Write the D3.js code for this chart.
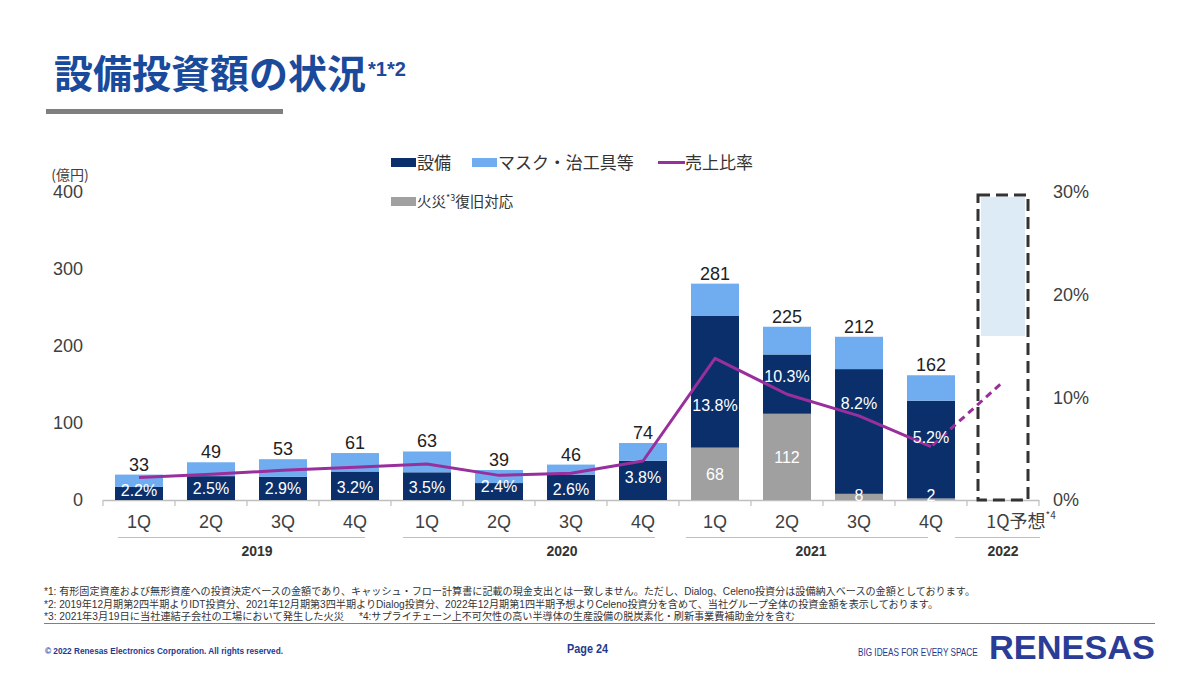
<!DOCTYPE html>
<html><head><meta charset="utf-8">
<script src="https://cdn.jsdelivr.net/npm/d3@7"></script>
<style>
html,body{margin:0;padding:0;background:#fff;}
svg{display:block;}
</style></head>
<body>
<svg id="chart" width="1200" height="675"></svg>
<script>
// ---------------- DATA ----------------
const categories = ["1Q","2Q","3Q","4Q","1Q","2Q","3Q","4Q","1Q","2Q","3Q","4Q","1Q予想"];
const years = ["2019","2020","2021","2022"];
const yearFirst = [0,4,8,12];
const yearLast = [3,7,11,12];
const equipment = [17,31,30,37,36,22,33,51,171,77,162,127];      // 設備
const masks = [16,18,23,24,27,17,13,23,42,36,42,33];              // マスク・治工具等
const fireRecovery = [0,0,0,0,0,0,0,0,68,112,8,2];                // 火災復旧対応
const totals = [33,49,53,61,63,39,46,74,281,225,212,162];
const salesRatio = [2.2,2.5,2.9,3.2,3.5,2.4,2.6,3.8,13.8,10.3,8.2,5.2];  // 売上比率 (%)
const forecastRatio = 11.5;          // 1Q予想 売上比率 (%)
const forecastRange = [213, 396];    // 1Q予想 range (億円)
const leftTicks = [0,100,200,300,400];
const rightTicks = [0,0.1,0.2,0.3];
const footnotes = [
  "*1: 有形固定資産および無形資産への投資決定ベースの金額であり、キャッシュ・フロー計算書に記載の現金支出とは一致しません。ただし、Dialog、Celeno投資分は設備納入ベースの金額としております。",
  "*2: 2019年12月期第2四半期よりIDT投資分、2021年12月期第3四半期よりDialog投資分、2022年12月期第1四半期予想よりCeleno投資分を含めて、当社グループ全体の投資金額を表示しております。",
  "*3: 2021年3月19日に当社連結子会社の工場において発生した火災",
  "*4:サプライチェーン上不可欠性の高い半導体の生産設備の脱炭素化・刷新事業費補助金分を含む"
];

// ---------------- STYLE ----------------
const C = {
  navy:"#0b2f6b", light:"#70acf0", grey:"#a0a0a0", purple:"#992f9c",
  title:"#1a4a9c", text:"#404040", axis:"#bfbfbf", fcFill:"#ddebf7", footer:"#1f3a8f"
};
const JP = "'Noto Sans CJK JP','Noto Sans',sans-serif";
const LAT = "'Liberation Sans',Arial,sans-serif";
const MIX = "'Liberation Sans','Noto Sans CJK JP',sans-serif";

const svg = d3.select("#chart");

// ---------------- TITLE ----------------
const title = svg.append("text").attr("x",54).attr("y",88)
  .attr("font-family",JP).attr("font-weight",700).attr("font-size",39).attr("fill",C.title);
title.append("tspan").text("設備投資額の状況");
title.append("tspan").attr("font-family",LAT).attr("font-size",20).attr("dy",-12).attr("dx",2).text("*1*2");
svg.append("rect").attr("x",46).attr("y",109).attr("width",237).attr("height",5).attr("fill","#7f7f7f");

// ---------------- SCALES ----------------
const x = d3.scaleBand().domain(d3.range(categories.length)).range([103,1039])
  .paddingInner(1/3).paddingOuter(1/6);
const y = d3.scaleLinear().domain([0,400]).range([500,192]);
const yR = d3.scaleLinear().domain([0,0.30]).range([500,192]);
const bw = x.bandwidth();

// ---------------- AXES ----------------
const gL = svg.append("g").attr("transform","translate(86,0)")
  .call(d3.axisLeft(y).tickValues(leftTicks).tickSize(0).tickPadding(3));
gL.select(".domain").remove();
gL.selectAll("text").attr("font-family",LAT).attr("font-size",18).attr("fill",C.text);

const gR = svg.append("g").attr("transform","translate(1050,0)")
  .call(d3.axisRight(yR).tickValues(rightTicks).tickFormat(d3.format(".0%")).tickSize(0).tickPadding(3));
gR.select(".domain").remove();
gR.selectAll("text").attr("font-family",LAT).attr("font-size",18).attr("fill",C.text);

svg.append("text").attr("x",70).attr("y",180).attr("text-anchor","middle")
  .attr("font-family",JP).attr("font-size",14).attr("fill",C.text).text("(億円)");

// baseline + boundary ticks
svg.append("line").attr("x1",103).attr("x2",1039).attr("y1",500.5).attr("y2",500.5)
  .attr("stroke",C.axis).attr("stroke-width",1.5);
const bounds = d3.range(categories.length+1).map(i => i===0 ? 103 : (i===categories.length ? 1039 : x(i) - x.step()*x.paddingInner()/2));
svg.append("g").selectAll("line").data(bounds).join("line")
  .attr("x1",d=>d).attr("x2",d=>d).attr("y1",500).attr("y2",506)
  .attr("stroke",C.axis).attr("stroke-width",1.2);

// category labels
const gB = svg.append("g").attr("transform","translate(0,500)")
  .call(d3.axisBottom(x).tickSize(0).tickPadding(15).tickFormat(i => categories[i]));
gB.select(".domain").remove();
gB.selectAll("text").attr("font-family",(d)=> d===12 ? JP : LAT).attr("font-size",18).attr("fill",C.text);
gB.selectAll(".tick").filter(d=>d===12).select("text")
  .attr("dx",18)
  .call(t => t.append("tspan").attr("font-size",10).attr("dy","-0.9em").text("*4"));

// year groups (layout offsets relative to the band positions)
const grpStart = [3,0,-5,-24], grpEnd = [-14,-12,-27,13], grpLabel = [10,27,-12,0];
years.forEach((yr,i)=>{
  const a = x(yearFirst[i]), b = x(yearLast[i]) + bw;
  svg.append("line").attr("x1",a+grpStart[i]).attr("x2",b+grpEnd[i]).attr("y1",537.5).attr("y2",537.5)
    .attr("stroke",C.axis).attr("stroke-width",1.2);
  svg.append("text").attr("x",(a+b)/2 + grpLabel[i]).attr("y",556).attr("text-anchor","middle")
    .attr("font-family",LAT).attr("font-weight",700).attr("font-size",14).attr("fill","#333")
    .text(yr);
});

// ---------------- BARS ----------------
const idx = d3.range(totals.length);
const gBars = svg.append("g");
gBars.selectAll(".fire").data(idx.filter(i=>fireRecovery[i]>0)).join("rect")
  .attr("x",i=>x(i)).attr("width",bw)
  .attr("y",i=>y(fireRecovery[i])).attr("height",i=>y(0)-y(fireRecovery[i]))
  .attr("fill",C.grey);
gBars.selectAll(".eq").data(idx).join("rect")
  .attr("x",i=>x(i)).attr("width",bw)
  .attr("y",i=>y(fireRecovery[i]+equipment[i]))
  .attr("height",i=>y(fireRecovery[i])-y(fireRecovery[i]+equipment[i]))
  .attr("fill",C.navy);
gBars.selectAll(".mk").data(idx).join("rect")
  .attr("x",i=>x(i)).attr("width",bw)
  .attr("y",i=>y(fireRecovery[i]+equipment[i]+masks[i]))
  .attr("height",i=>y(fireRecovery[i]+equipment[i])-y(fireRecovery[i]+equipment[i]+masks[i]))
  .attr("fill",C.light);

// forecast box
const fi = categories.length-1;
const fx = x(fi) + bw/2 - 25;
svg.append("rect").attr("x",fx+3).attr("width",44)
  .attr("y",y(forecastRange[1])+2).attr("height",y(forecastRange[0])-y(forecastRange[1])-2)
  .attr("fill",C.fcFill);
svg.append("rect").attr("x",fx).attr("width",50)
  .attr("y",y(forecastRange[1])).attr("height",y(0)-y(forecastRange[1]))
  .attr("fill","none").attr("stroke","#333").attr("stroke-width",3)
  .attr("stroke-dasharray","12,6");

// total labels
svg.append("g").selectAll("text").data(idx).join("text")
  .attr("x",i=>x(i)+bw/2).attr("y",i=>y(totals[i])-4).attr("text-anchor","middle")
  .attr("font-family",LAT).attr("font-size",18).attr("fill","#222")
  .text(i=>totals[i]);

// ---------------- LINE ----------------
const cx = i => x(i)+bw/2;
svg.append("path").datum(idx)
  .attr("d", d3.line().x(i=>cx(i)).y(i=>yR(salesRatio[i]/100)))
  .attr("fill","none").attr("stroke",C.purple).attr("stroke-width",3).attr("stroke-linejoin","round");
svg.append("path").datum([[cx(fi-1),salesRatio[fi-1]],[cx(fi),forecastRatio]])
  .attr("d", d3.line().x(d=>d[0]).y(d=>yR(d[1]/100)))
  .attr("fill","none").attr("stroke",C.purple).attr("stroke-width",3)
  .attr("stroke-dasharray","7,5").attr("stroke-dashoffset",-14);

// ratio labels
const pctDy = [-3.5,0,0,1,1,-5,2,-3,23,-8,-28,-12];
svg.append("g").selectAll("text").data(idx).join("text")
  .attr("x",i=>cx(i)).attr("text-anchor","middle")
  .attr("y",i=>(y(fireRecovery[i])+y(fireRecovery[i]+equipment[i]))/2 + pctDy[i])
  .attr("dy","0.36em")
  .attr("font-family",LAT).attr("font-size",16).attr("fill","#fff")
  .text(i=>salesRatio[i].toFixed(1)+"%");

// fire labels
svg.append("g").selectAll("text").data(idx.filter(i=>fireRecovery[i]>0)).join("text")
  .attr("x",i=>cx(i)).attr("text-anchor","middle")
  .attr("y",i=>Math.min((y(0)+y(fireRecovery[i]))/2, y(0)-5))
  .attr("dy","0.36em")
  .attr("font-family",LAT).attr("font-size",16).attr("fill","#fff")
  .text(i=>fireRecovery[i]);

// ---------------- LEGEND ----------------
const lg = svg.append("g");
const legendRow1 = [
  {t:"設備", type:"rect", c:C.navy, x:391},
  {t:"マスク・治工具等", type:"rect", c:C.light, x:472},
  {t:"売上比率", type:"line", c:C.purple, x:658}
];
legendRow1.forEach(d=>{
  if(d.type==="rect") lg.append("rect").attr("x",d.x).attr("y",158).attr("width",25).attr("height",9).attr("fill",d.c);
  else lg.append("line").attr("x1",d.x).attr("x2",d.x+27).attr("y1",162.5).attr("y2",162.5).attr("stroke",d.c).attr("stroke-width",3);
  lg.append("text").attr("x",d.x+(d.type==="rect"?26:27)).attr("y",169)
    .attr("font-family",JP).attr("font-size",17).attr("fill","#333").text(d.t);
});
lg.append("rect").attr("x",391).attr("y",197).attr("width",25).attr("height",9).attr("fill",C.grey);
const lt = lg.append("text").attr("x",417).attr("y",207).attr("font-family",JP).attr("font-size",14.5).attr("fill","#333");
lt.append("tspan").text("火災");
lt.append("tspan").attr("font-size",9).attr("dy",-6).text("*3");
lt.append("tspan").attr("dy",6).text("復旧対応");

// ---------------- FOOTNOTES ----------------
const fn = svg.append("g").attr("font-family",MIX).attr("font-size",10).attr("fill","#333");
fn.append("text").attr("x",44).attr("y",595).attr("textLength",931).attr("lengthAdjust","spacingAndGlyphs").text(footnotes[0]);
fn.append("text").attr("x",44).attr("y",607.5).attr("textLength",894).attr("lengthAdjust","spacingAndGlyphs").text(footnotes[1]);
fn.append("text").attr("x",44).attr("y",620).attr("textLength",300).attr("lengthAdjust","spacingAndGlyphs").text(footnotes[2]);
fn.append("text").attr("x",359).attr("y",620).attr("textLength",436).attr("lengthAdjust","spacingAndGlyphs").text(footnotes[3]);
svg.append("line").attr("x1",44).attr("x2",1155).attr("y1",623.5).attr("y2",623.5).attr("stroke","#808080").attr("stroke-width",1.2);

// ---------------- FOOTER ----------------
svg.append("text").attr("x",45).attr("y",654).attr("font-family",LAT).attr("font-weight",700).attr("font-size",9)
  .attr("fill",C.footer).attr("textLength",238).attr("lengthAdjust","spacingAndGlyphs")
  .text("© 2022 Renesas Electronics Corporation. All rights reserved.");
svg.append("text").attr("x",567).attr("y",653).attr("font-family",LAT).attr("font-weight",700).attr("font-size",12)
  .attr("fill",C.footer).attr("textLength",41).attr("lengthAdjust","spacingAndGlyphs").text("Page 24");
svg.append("text").attr("transform","translate(858,656) scale(0.82,1)")
  .attr("font-family",LAT).attr("font-size",10).attr("fill",C.footer)
  .text("BIG IDEAS FOR EVERY SPACE");
svg.append("text").attr("x",989).attr("y",659).attr("font-family",LAT).attr("font-weight",700).attr("font-size",33)
  .attr("fill","#2a3c96").attr("textLength",166).attr("lengthAdjust","spacingAndGlyphs").text("RENESAS");
</script>
</body></html>
